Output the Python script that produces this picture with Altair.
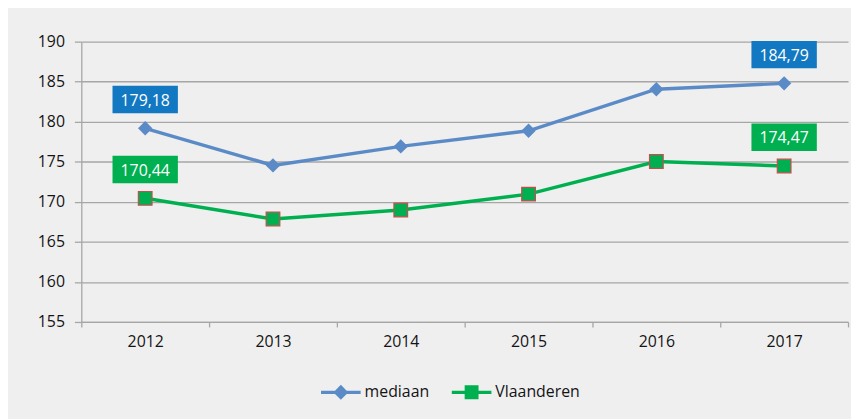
import altair as alt
import pandas as pd

years = ["2012", "2013", "2014", "2015", "2016", "2017"]
mediaan = [179.18, 174.55, 176.92, 178.87, 184.06, 184.79]
vlaanderen = [170.44, 167.86, 168.98, 170.96, 175.04, 174.47]
series_names = ["mediaan", "Vlaanderen"]
labelled_years = ["2012", "2017"]

BLUE_LINE = "#5b8bc7"
GREEN = "#00b050"
BLUE_BOX = "#1278c2"
SQ_STROKE = "#c0504d"
FONT = "Open Sans"
TXT = "#141414"

rows = []
for s, vals in zip(series_names, [mediaan, vlaanderen]):
    for y, v in zip(years, vals):
        rows.append({"jaar": y, "reeks": s, "waarde": v,
                     "label": f"{v:.2f}".replace(".", ",")})
df = pd.DataFrame(rows)

base = alt.Chart(df)

x_enc = alt.X("jaar:N", title=None, bandPosition=0.5,
              scale=alt.Scale(type="band", paddingInner=0, paddingOuter=0, domain=years),
              axis=alt.Axis(labelAngle=0, tickBand="extent", tickSize=5, tickColor="#a6a6a6",
                            domainColor="#a6a6a6", domainWidth=1.3, tickWidth=1.3,
                            labelFont=FONT, labelFontSize=16, labelColor=TXT,
                            labelPadding=7, grid=False))
y_enc = alt.Y("waarde:Q", title=None,
              scale=alt.Scale(domain=[155, 190], nice=False, zero=False),
              axis=alt.Axis(values=list(range(155, 191, 5)), tickSize=7, tickColor="#a6a6a6",
                            tickWidth=1.3, domainColor="#a6a6a6", domainWidth=1.3,
                            gridColor="#a6a6a6", gridWidth=1.3,
                            labelFont=FONT, labelFontSize=16, labelColor=TXT,
                            labelPadding=10))

line_m = base.transform_filter(alt.datum.reeks == "mediaan").mark_line(
    color=BLUE_LINE, strokeWidth=3.5).encode(x=x_enc, y=y_enc)
line_v = base.transform_filter(alt.datum.reeks == "Vlaanderen").mark_line(
    color=GREEN, strokeWidth=3.5).encode(x=x_enc, y=y_enc)

pts_m = base.transform_filter(alt.datum.reeks == "mediaan").mark_point(
    shape="diamond", filled=True, color=BLUE_LINE, size=210, opacity=1).encode(x=x_enc, y=y_enc)
pts_v = base.transform_filter(alt.datum.reeks == "Vlaanderen").mark_point(
    shape="square", filled=True, fill=GREEN, stroke=SQ_STROKE, strokeWidth=1.2,
    size=190, opacity=1).encode(x=x_enc, y=y_enc)

diamond_line = ("M-1,-0.08H-0.295L0,-0.375L0.295,-0.08H1V0.08H0.295L0,0.375L-0.295,0.08H-1Z")
square_line = ("M-1,-0.08H-0.35V-0.35H0.35V-0.08H1V0.08H0.35V0.35H-0.35V0.08H-1Z")

def make_legend():
    return alt.Legend(title=None, orient="none", legendX=242, legendY=334,
                      direction="horizontal", symbolSize=1600,
                      symbolOpacity=1, symbolStrokeWidth=0,
                      labelFont=FONT, labelFontSize=16, labelColor=TXT,
                      labelOffset=4, columnPadding=22, padding=0)

legend_layer = base.mark_point(filled=True, opacity=0, size=1).encode(
    x=x_enc, y=y_enc,
    color=alt.Color("reeks:N", scale=alt.Scale(domain=series_names, range=[BLUE_LINE, GREEN]),
                    legend=make_legend()),
    shape=alt.Shape("reeks:N", scale=alt.Scale(domain=series_names, range=[diamond_line, square_line]),
                    legend=make_legend()),
)

box_path = "M-1,-0.42H1V0.42H-1Z"
label_layers = []
for s, col in zip(series_names, [BLUE_BOX, GREEN]):
    sel = base.transform_filter(alt.datum.reeks == s).transform_filter(
        alt.FieldOneOfPredicate(field="jaar", oneOf=labelled_years))
    label_layers.append(sel.mark_point(shape=box_path, filled=True, color=col, size=4356,
                                       opacity=1, yOffset=-29).encode(x=x_enc, y=y_enc))
    label_layers.append(sel.mark_text(color="white", font=FONT, fontSize=16, yOffset=-28,
                                      baseline="middle", align="center").encode(
        x=x_enc, y=y_enc, text="label:N"))

chart = alt.layer(line_m, line_v, pts_m, pts_v, legend_layer, *label_layers).properties(
    width=774, height=283,
    autosize=alt.AutoSizeParams(type="none"),
    padding={"left": 74, "top": 32, "right": 3, "bottom": 96},
    background="#efefef",
).configure_view(stroke=None)

chart.save("out.html", embed_options={"renderer": "svg", "actions": False})
